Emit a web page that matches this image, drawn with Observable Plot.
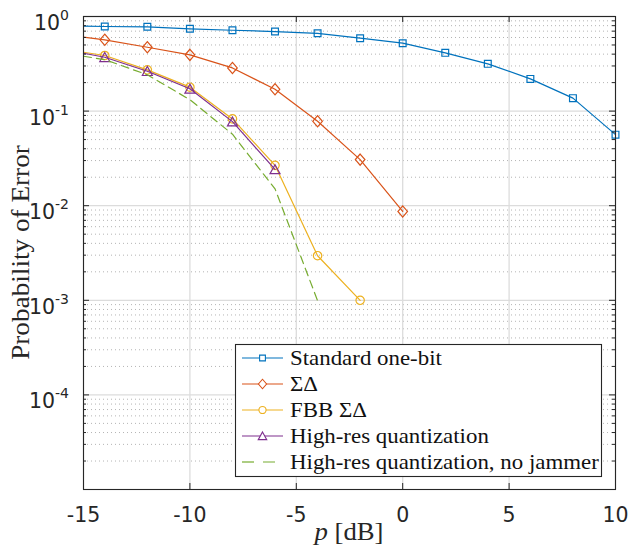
<!DOCTYPE html>
<html>
<head>
<meta charset="utf-8">
<script src="https://cdn.jsdelivr.net/npm/d3@7"></script>
<script src="https://cdn.jsdelivr.net/npm/@observablehq/plot@0.6"></script>
<style>
  body { margin: 0; background: #fff; }
  #chart { width: 628px; height: 558px; }
</style>
</head>
<body>
<div id="chart"></div>
<script>
// ---- tick values / labels ----
const xTicks = [-15, -10, -5, 0, 5, 10];
const yTicks = [1, 0.1, 0.01, 0.001, 0.0001];
const yTickExponents = ["0", "-1", "-2", "-3", "-4"];
const yMinor = [];
for (let e = -5; e < 0; e++) for (let k = 2; k <= 9; k++) yMinor.push(k * Math.pow(10, e));

// ---- series ----
const names = ["Standard one-bit", "ΣΔ", "FBB ΣΔ", "High-res quantization", "High-res quantization, no jammer"];
const colors = ["#0072BD", "#D95319", "#EDB120", "#7E2F8E", "#77AC30"];

const xStd = [-15, -14, -12, -10, -8, -6, -4, -2, 0, 2, 4, 6, 8, 10];
const yStd = [0.79, 0.784, 0.778, 0.741, 0.716, 0.693, 0.664, 0.590, 0.522, 0.413, 0.316, 0.219, 0.137, 0.0564];

const xSD = [-15, -14, -12, -10, -8, -6, -4, -2, 0];
const ySD = [0.604, 0.567, 0.473, 0.393, 0.286, 0.170, 0.078, 0.0307, 0.0087];

const xFBB = [-15, -14, -12, -10, -8, -6, -4, -2];
const yFBB = [0.419, 0.387, 0.273, 0.179, 0.0827, 0.0267, 0.00296, 0.001];

const xHR = [-15, -14, -12, -10, -8, -6];
const yHR = [0.409, 0.371, 0.264, 0.172, 0.0774, 0.0242];

const xNJ = [-15, -14, -12, -10, -8, -6, -4];
const yNJ = [0.380, 0.35, 0.242, 0.132, 0.057, 0.0151, 0.00099];

const toRows = (xs, ys) => xs.map((x, i) => ({x, y: ys[i]}));
const rows = [toRows(xStd, yStd), toRows(xSD, ySD), toRows(xFBB, yFBB), toRows(xHR, yHR), toRows(xNJ, yNJ)];

// ---- marker symbols ----
const symSquare = {draw(c) { const h = 3.4; c.moveTo(-h, -h); c.lineTo(h, -h); c.lineTo(h, h); c.lineTo(-h, h); c.closePath(); }};
const symDiamond = {draw(c) { const w = 4.8, h = 5.6; c.moveTo(0, -h); c.lineTo(w, 0); c.lineTo(0, h); c.lineTo(-w, 0); c.closePath(); }};
const symCircle = {draw(c) { c.moveTo(4.2, 0); c.arc(0, 0, 4.2, 0, 2 * Math.PI); }};
const symTriangle = {draw(c) { c.moveTo(0, -4.7); c.lineTo(5, 4.3); c.lineTo(-5, 4.3); c.closePath(); }};
const symbols = [symSquare, symDiamond, symCircle, symTriangle, null];
const dashes = [null, null, null, null, "8,5"];
const legendDashes = [null, null, null, null, "12,9"];

const W = 628, H = 558, mL = 83, mR = 13, mT = 16, mB = 69;
const plotW = W - mL - mR, plotH = H - mT - mB;
const axisColor = "#262626";

const marks = [
  Plot.gridY(yMinor, {stroke: "#b4b4b4", strokeOpacity: 1, strokeDasharray: "1,3", strokeWidth: 1}),
  Plot.gridY(yTicks, {stroke: "#dcdcdc", strokeOpacity: 1, strokeWidth: 1.3}),
  Plot.gridX(xTicks, {stroke: "#dcdcdc", strokeOpacity: 1, strokeWidth: 1.3}),
];
rows.forEach((r, i) => {
  marks.push(Plot.line(r, {x: "x", y: "y", stroke: colors[i], strokeWidth: 1.2, strokeDasharray: dashes[i]}));
  if (symbols[i]) {
    marks.push(Plot.dot(r.filter(d => d.x > -15), {x: "x", y: "y", symbol: symbols[i], stroke: colors[i], fill: "none", strokeWidth: 1.2, r: 4}));
  }
});
marks.push(
  // inward ticks
  Plot.tickX(xTicks, {x: d => d, stroke: axisColor, insetTop: plotH - 6}),
  Plot.tickX(xTicks, {x: d => d, stroke: axisColor, insetBottom: plotH - 6}),
  Plot.tickY(yTicks, {y: d => d, stroke: axisColor, insetRight: plotW - 6}),
  Plot.tickY(yTicks, {y: d => d, stroke: axisColor, insetLeft: plotW - 6}),
  Plot.tickY(yMinor, {y: d => d, stroke: axisColor, insetRight: plotW - 3}),
  Plot.tickY(yMinor, {y: d => d, stroke: axisColor, insetLeft: plotW - 3}),
  Plot.axisX(xTicks, {anchor: "bottom", tickSize: 0, tickPadding: 18, label: null, tickFormat: d => String(d), fill: axisColor}),
  Plot.frame({stroke: axisColor, strokeWidth: 1.1})
);

const plot = Plot.plot({
  width: W, height: H,
  marginLeft: mL, marginRight: mR, marginTop: mT, marginBottom: mB,
  x: {domain: [-15, 10], axis: null},
  y: {type: "log", domain: [1e-5, 1], axis: null},
  style: {fontFamily: "'DejaVu Sans', sans-serif", fontSize: "20.5px", background: "#fff", color: axisColor, overflow: "visible"},
  marks
});
document.getElementById("chart").appendChild(plot);

// ---- y tick labels with superscripts ----
const svg = d3.select(plot);
const ys = plot.scale("y");
const gy = svg.append("g").attr("font-family", "'DejaVu Sans', sans-serif").attr("fill", axisColor);
yTicks.forEach((v, i) => {
  const py = ys.apply(v);
  const t = gy.append("text").attr("x", 69).attr("y", py + 14).attr("text-anchor", "end").attr("font-size", 20.5);
  t.append("tspan").text("10");
  t.append("tspan").attr("dy", -10).attr("font-size", 14).text(yTickExponents[i]);
});

// ---- axis titles (serif) ----
const serif = "'Liberation Serif', 'Times New Roman', serif";
const sx = 1.09;
const gl = svg.append("g").attr("transform", `translate(29,${mT + plotH / 2}) rotate(-90) scale(${sx},1)`);
gl.append("text").attr("text-anchor", "middle").attr("font-family", serif).attr("font-size", 25).attr("fill", axisColor).text("Probability of Error");

const gxl = svg.append("g").attr("transform", `translate(${mL + plotW / 2},540) scale(1.07,1)`);
const xt = gxl.append("text").attr("text-anchor", "middle").attr("font-family", serif).attr("font-size", 25).attr("fill", axisColor);
xt.append("tspan").attr("font-style", "italic").text("p");
xt.append("tspan").text(" [dB]");

// ---- legend ----
const lg = svg.append("g");
lg.append("rect").attr("x", 235.5).attr("y", 344.5).attr("width", 366).attr("height", 132)
  .attr("fill", "#fff").attr("stroke", axisColor).attr("stroke-width", 1.1);
names.forEach((n, i) => {
  const cy = 358 + i * 26;
  const ln = lg.append("line").attr("x1", 242).attr("x2", 283).attr("y1", cy).attr("y2", cy)
    .attr("stroke", colors[i]).attr("stroke-width", 1.2);
  if (legendDashes[i]) ln.attr("stroke-dasharray", legendDashes[i]);
  if (symbols[i]) {
    const p = d3.path(); symbols[i].draw(p);
    lg.append("path").attr("d", p.toString()).attr("transform", `translate(262.5,${cy}) scale(0.85)`)
      .attr("fill", "#fff").attr("stroke", colors[i]).attr("stroke-width", 1.3);
  }
  const tg = lg.append("g").attr("transform", `translate(290,${cy + 7}) scale(${sx},1)`);
  tg.append("text").attr("text-anchor", "start").attr("font-family", serif).attr("font-size", 21).attr("fill", "#111").text(n);
});
</script>
</body>
</html>
